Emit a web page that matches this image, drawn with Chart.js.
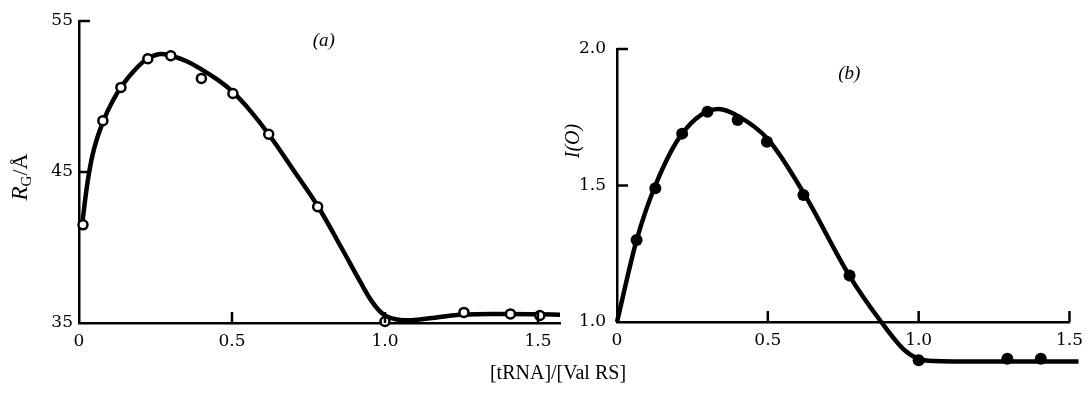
<!DOCTYPE html>
<html><head><meta charset="utf-8">
<script src="https://cdn.jsdelivr.net/npm/chart.js@4"></script>
<style>
html,body{margin:0;padding:0;background:#fff;}
#wrap{position:relative;width:1091px;height:397px;overflow:hidden;background:#fff;}
canvas{position:absolute;top:0;}
#cA{left:0;} #cB{left:560px;}
#xt{position:absolute;left:0;width:1116px;top:361px;line-height:20px;text-align:center;font:20px "Liberation Serif";color:#000;}
</style></head><body>
<div id="wrap">
<canvas id="cA" width="580" height="397"></canvas>
<canvas id="cB" width="531" height="397"></canvas>
<div id="xt">[tRNA]/[Val RS]</div>
</div>
<script>
// ---- Panel (a): radius of gyration ----
const aPointX = [0.013, 0.078, 0.137, 0.225, 0.30, 0.40, 0.503, 0.62, 0.78, 1.0, 1.258, 1.41, 1.506];
const aPointY = [41.5, 48.4, 50.6, 52.5, 52.7, 51.2, 50.2, 47.5, 42.7, 35.1, 35.7, 35.6, 35.5];
const aCurveX = [0.01, 0.03, 0.05, 0.08, 0.11, 0.14, 0.18, 0.22, 0.26, 0.30, 0.35, 0.40, 0.45, 0.50, 0.56, 0.62, 0.70, 0.78, 0.86, 0.92, 0.96, 1.0, 1.05, 1.12, 1.25, 1.40, 1.572];
const aCurveY = [41.5, 44.6, 46.6, 48.4, 49.7, 50.7, 51.7, 52.45, 52.8, 52.7, 52.35, 51.8, 51.15, 50.35, 49.05, 47.5, 45.15, 42.75, 39.9, 37.7, 36.35, 35.5, 35.2, 35.25, 35.55, 35.6, 35.55];
const aXTicks = [0, 0.5, 1.0, 1.5];
const aXTickLabels = ['0', '0.5', '1.0', '1.5'];
const aYTicks = [35, 45, 55];
const aYTickLabels = ['35', '45', '55'];

// ---- Panel (b): I(O) ----
const bPointX = [0.065, 0.127, 0.216, 0.30, 0.40, 0.497, 0.618, 0.771, 1.0, 1.294, 1.405];
const bPointY = [1.30, 1.49, 1.69, 1.77, 1.74, 1.66, 1.465, 1.17, 0.86, 0.865, 0.865];
const bCurveX = [0, 0.065, 0.127, 0.216, 0.337, 0.40, 0.50, 0.62, 0.77, 0.876, 0.95, 1.0, 1.05, 1.2, 1.53];
const bCurveY = [1.0, 1.30, 1.50, 1.69, 1.78, 1.755, 1.67, 1.47, 1.17, 1.0, 0.90, 0.865, 0.857, 0.855, 0.855];
const bXTicks = [0, 0.5, 1.0, 1.5];
const bXTickLabels = ['0', '0.5', '1.0', '1.5'];
const bYTicks = [1.0, 1.5, 2.0];
const bYTickLabels = ['1.0', '1.5', '2.0'];

const zip = (xs, ys) => xs.map((x, i) => ({x: x, y: ys[i]}));
const TICKFONT = {family: 'DejaVu Serif', size: 17};

const decor = {
  id: 'decor',
  // let marks that fall just outside the axes (below the x axis in panel b) still be drawn
  beforeDatasetsDraw(chart) { chart.chartArea.bottom += 60; chart.chartArea.right += 20; },
  afterDatasetsDraw(chart) { chart.chartArea.bottom -= 60; chart.chartArea.right -= 20; },
  afterDraw(chart, args, o) {
    const ctx = chart.ctx, a = chart.chartArea, xs = chart.scales.x, ys = chart.scales.y;
    ctx.save();
    ctx.strokeStyle = '#000'; ctx.lineWidth = 2.5; ctx.lineCap = 'butt';
    o.xMarks.forEach(v => { const p = xs.getPixelForValue(v); ctx.beginPath(); ctx.moveTo(p, a.bottom); ctx.lineTo(p, a.bottom - o.len); ctx.stroke(); });
    o.yMarks.forEach(v => { const p = ys.getPixelForValue(v); ctx.beginPath(); ctx.moveTo(a.left, p); ctx.lineTo(a.left + o.len, p); ctx.stroke(); });
    ctx.fillStyle = '#000';
    ctx.font = 'italic 19px "Liberation Serif"'; ctx.textAlign = 'center'; ctx.textBaseline = 'middle';
    ctx.fillText(o.panel.text, xs.getPixelForValue(o.panel.x), ys.getPixelForValue(o.panel.y));
    // y title (rotated)
    ctx.translate(o.yTitle.px, o.yTitle.py);
    ctx.rotate(-Math.PI / 2);
    ctx.textAlign = 'left'; ctx.textBaseline = 'alphabetic';
    let w = 0;
    o.yTitle.parts.forEach(pt => { ctx.font = pt.font; w += ctx.measureText(pt.t).width; });
    let cx = -w / 2;
    o.yTitle.parts.forEach(pt => { ctx.font = pt.font; ctx.fillText(pt.t, cx, 7 + (pt.dy || 0)); cx += ctx.measureText(pt.t).width; });
    ctx.restore();
  }
};

function makeChart(id, cfg) {
  return new Chart(document.getElementById(id), {
    type: 'line',
    data: {datasets: [
      {data: zip(cfg.px, cfg.py), showLine: false, pointRadius: cfg.pr, pointBorderWidth: cfg.pbw,
       pointBackgroundColor: cfg.pfill, pointBorderColor: '#000', clip: false, order: 0},
      {data: zip(cfg.cx, cfg.cy), borderColor: '#000', borderWidth: 4.5, pointRadius: 0,
       cubicInterpolationMode: cfg.interp, tension: 0.4, capBezierPoints: false, clip: false, fill: false, order: 1}
    ]},
    options: {
      responsive: false, animation: false, devicePixelRatio: 1,
      layout: {padding: {top: cfg.padTop, right: cfg.padRight, left: 0, bottom: 0}},
      plugins: {legend: {display: false}, tooltip: {enabled: false}, decor: cfg.decor},
      scales: {
        x: {type: 'linear', min: cfg.xmin, max: cfg.xmax,
            afterBuildTicks: s => { s.ticks = cfg.xt.map(v => ({value: v})); },
            afterFit: s => { s.height = cfg.xh; },
            grid: {display: false, drawTicks: false},
            border: {display: true, color: '#000', width: 2.5},
            ticks: {color: '#000', font: TICKFONT, padding: 8, maxRotation: 0, autoSkip: false,
                    callback: (v, i) => cfg.xl[i]}},
        y: {type: 'linear', min: cfg.ymin, max: cfg.ymax,
            afterBuildTicks: s => { s.ticks = cfg.yt.map(v => ({value: v})); },
            afterFit: s => { s.width = cfg.yw; },
            grid: {display: false, drawTicks: false},
            border: {display: true, color: '#000', width: 2.5},
            ticks: {color: '#000', font: TICKFONT, padding: cfg.ypad, autoSkip: false,
                    callback: (v, i) => cfg.yl[i]}}
      }
    },
    plugins: [decor]
  });
}

makeChart('cA', {
  px: aPointX, py: aPointY, cx: aCurveX, cy: aCurveY, pr: 4.5, pbw: 2.5, pfill: '#fff', interp: 'default',
  xmin: 0, xmax: 1.572, ymin: 35, ymax: 55, xt: aXTicks, xl: aXTickLabels, yt: aYTicks, yl: aYTickLabels,
  padTop: 21, padRight: 20, xh: 74, yw: 79, ypad: 6,
  decor: {len: 11, xMarks: [0.5, 1.0, 1.5], yMarks: [45, 55], panel: {text: '(a)', x: 0.80, y: 53.7},
          yTitle: {px: 20, py: 177, parts: [
            {t: 'R', font: 'italic 23px "Liberation Serif"'},
            {t: 'G', font: '15px "Liberation Serif"', dy: 4},
            {t: '/Å', font: '22px "Liberation Serif"'}]}}
});

makeChart('cB', {
  px: bPointX, py: bPointY, cx: bCurveX, cy: bCurveY, pr: 6, pbw: 0, pfill: '#000', interp: 'monotone',
  xmin: 0, xmax: 1.5, ymin: 1.0, ymax: 2.0, xt: bXTicks, xl: bXTickLabels, yt: bYTicks, yl: bYTickLabels,
  padTop: 49, padRight: 15, xh: 75, yw: 57, ypad: 11,
  decor: {len: 11, xMarks: [0.5, 1.0, 1.5], yMarks: [1.5, 2.0], panel: {text: '(b)', x: 0.77, y: 1.91},
          yTitle: {px: 12, py: 141, parts: [
            {t: 'I(O)', font: 'italic 20px "Liberation Serif"'}]}}
});
</script>
</body></html>
